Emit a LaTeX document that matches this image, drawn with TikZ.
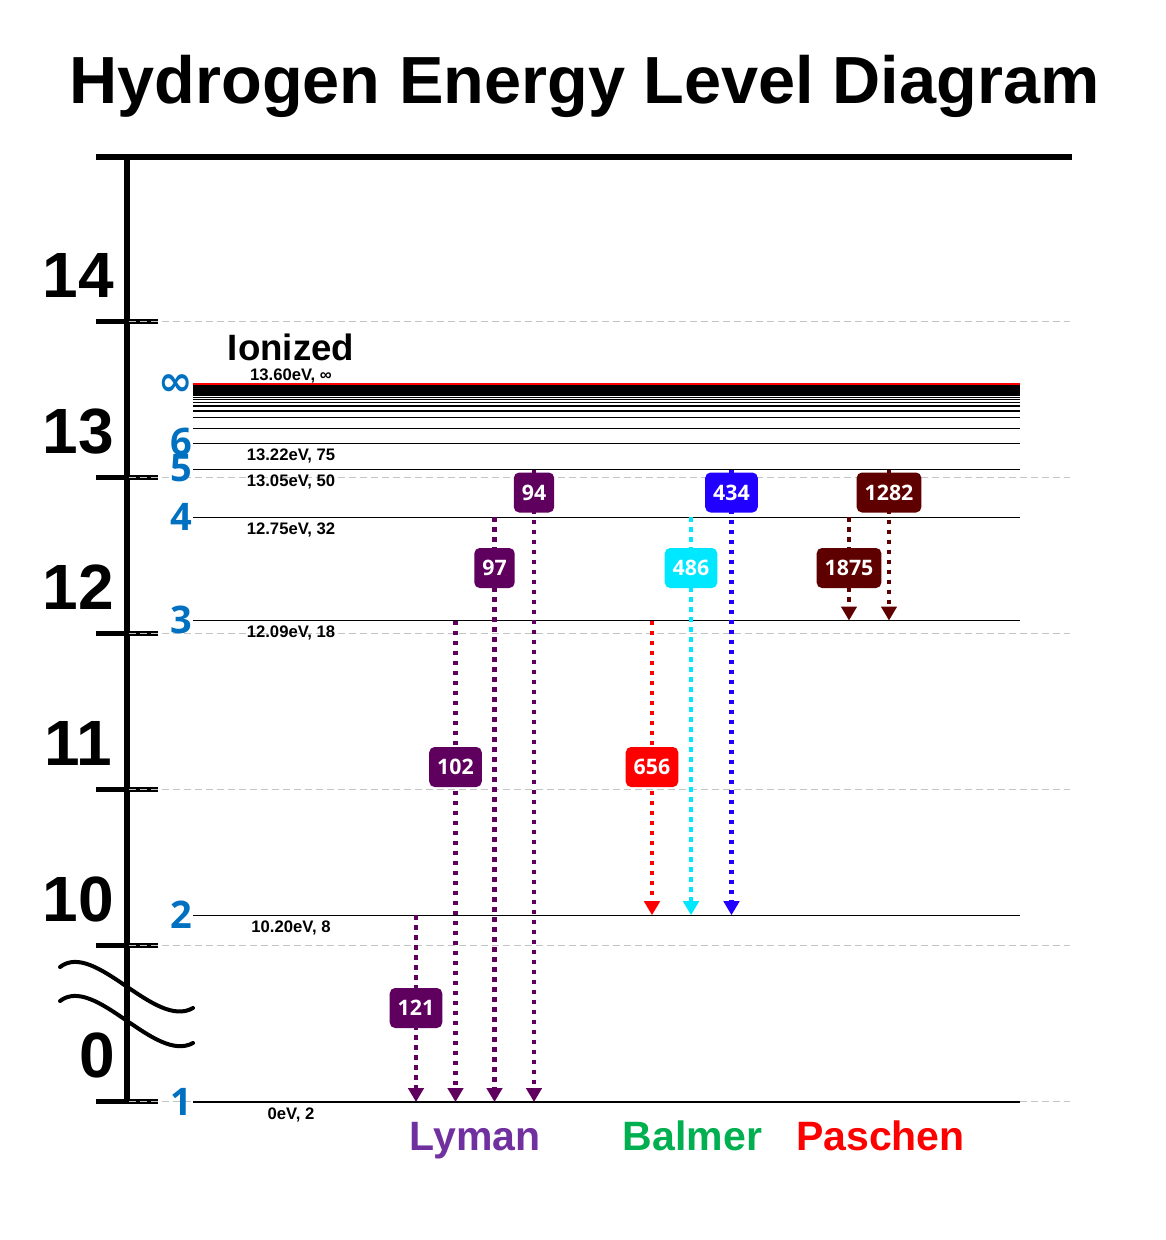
\documentclass[tikz,border=0pt]{standalone}
\usepackage{fontspec}
\setmainfont{Liberation Sans}
\newfontfamily\osans{Open Sans}
\newfontfamily\dvsans{DejaVu Sans}
\usetikzlibrary{arrows.meta}
\definecolor{lyc}{HTML}{5F005F}
\definecolor{pac}{HTML}{5F0000}
\definecolor{hred}{HTML}{FF0000}
\definecolor{hcyan}{HTML}{00E8FF}
\definecolor{hblue}{HTML}{2200FF}
\definecolor{lvlblue}{HTML}{0070C0}
\definecolor{lymantxt}{HTML}{7030A0}
\definecolor{balmertxt}{HTML}{00B050}
\definecolor{gridgray}{HTML}{C4C4C4}
\tikzset{
  gridline/.style={draw=gridgray, line width=0.75pt, dash pattern=on 5.25pt off 3pt},
  tickline/.style={line width=3.75pt},
  levelline/.style={line width=0.8pt},
  transition/.style={line width=3.6pt, dash pattern=on 3.5pt off 4pt, draw=#1,
     -{Triangle[width=11.5pt,length=10.5pt,fill=#1]}},
  wbox/.style={rounded corners=4pt, fill=#1, text=white, font=\osans\bfseries\fontsize{16}{18}\selectfont,
     minimum height=30pt, inner xsep=6pt, inner ysep=0pt},
  axislbl/.style={font=\bfseries\fontsize{48}{56}\selectfont, anchor=base east, inner sep=0pt},
  nlbl/.style={font=\osans\bfseries\fontsize{28.5}{32}\selectfont, text=lvlblue, inner sep=0pt},
  elbl/.style={font=\bfseries\fontsize{12.5}{14}\selectfont, anchor=base, inner sep=0pt},
  serieslbl/.style={font=\bfseries\fontsize{30.75}{36}\selectfont, anchor=base, inner sep=0pt}
}
\begin{document}
\begin{tikzpicture}[x=0.75pt,y=-0.75pt]
\useasboundingbox[fill=white] (0,0) rectangle (1166,1240);

% title
\node[font=\bfseries\fontsize{50}{60}\selectfont, anchor=base, inner sep=0pt] (title) at (584.5,103) {Hydrogen Energy Level Diagram};

% axis frame
\draw[line width=4.2pt] (96,157) -- (1072,157);
\draw[line width=4.1pt] (127,157) -- (127,1103.5);
\foreach \ty in {321,477,633,789,945,1101} {
  \draw[tickline] (96,\ty) -- (158,\ty);
}
% grid lines
\foreach \ty in {321,477,633,789,945,1101} {
  \draw[gridline] (129,\ty) -- (1070,\ty);
}

% axis labels
\node[axislbl] (a14) at (114,297) {14};
\node[axislbl] (a13) at (114,453) {13};
\node[axislbl] (a12) at (114,609) {12};
\node[axislbl] (a11) at (112,765) {11};
\node[axislbl] (a10) at (114,921) {10};
\node[axislbl] (a0) at (115,1077) {0};

% break symbol
\draw[line width=3pt, line cap=round] (60,967) .. controls (95,940) and (155,1030) .. (193,1008);
\draw[line width=3pt, line cap=round] (60,1001) .. controls (95,974) and (155,1064) .. (193,1043);

% energy levels
\foreach \n in {2,...,160} {
  \pgfmathsetmacro\yy{384.8+2121.6/\n/\n}
  \draw[levelline] (193,\yy) -- (1020,\yy);
}
\draw[levelline] (193,1102) -- (1020,1102);
\draw[draw=hred, line width=1.6pt] (193,384.2) -- (1020,384.2);

% level numbers
\node[nlbl, font=\dvsans\bfseries\fontsize{31}{34}\selectfont] (ninf) at (176,385) {∞};
\node[nlbl] (n6) at (181,441.5) {6};
\node[nlbl] (n5) at (181,468.5) {5};
\node[nlbl] (n4) at (181,516.7) {4};
\node[nlbl] (n3) at (181,620) {3};
\node[nlbl] (n2) at (181,914.5) {2};
\node[nlbl] (n1) at (181,1102) {1};

% energy labels
\node[font=\bfseries\fontsize{27.5}{32}\selectfont, inner sep=0pt] (ion) at (291,347.5) {Ionized};
\node[elbl] (e7) at (291,380.5) {13.60eV, ∞};
\node[elbl] (e6) at (291,460) {13.22eV, 75};
\node[elbl] (e5) at (291,486) {13.05eV, 50};
\node[elbl] (e4) at (291,534) {12.75eV, 32};
\node[elbl] (e3) at (291,637) {12.09eV, 18};
\node[elbl] (e2) at (291,932.5) {10.20eV, 8};
\node[elbl] (e1) at (291,1119.5) {0eV, 2};

% transition endpoints
\coordinate (ly1s) at (416,915.2);   \coordinate (ly1e) at (416,1102);
\coordinate (ly2s) at (455.5,620.5); \coordinate (ly2e) at (455.5,1102);
\coordinate (ly3s) at (494.5,517.4); \coordinate (ly3e) at (494.5,1102);
\coordinate (ly4s) at (534,469.7);   \coordinate (ly4e) at (534,1102);
\coordinate (ba1s) at (652,620.5);   \coordinate (ba1e) at (652,915.2);
\coordinate (ba2s) at (691,517.4);   \coordinate (ba2e) at (691,915.2);
\coordinate (ba3s) at (731.5,469.7); \coordinate (ba3e) at (731.5,915.2);
\coordinate (pa1s) at (849,517.4);   \coordinate (pa1e) at (849,620.5);
\coordinate (pa2s) at (889,469.7);   \coordinate (pa2e) at (889,620.5);

\draw[transition=lyc] (ly1s) -- (ly1e);
\draw[transition=lyc] (ly2s) -- (ly2e);
\draw[transition=lyc] (ly3s) -- (ly3e);
\draw[transition=lyc] (ly4s) -- (ly4e);
\draw[transition=hred] (ba1s) -- (ba1e);
\draw[transition=hcyan] (ba2s) -- (ba2e);
\draw[transition=hblue] (ba3s) -- (ba3e);
\draw[transition=pac] (pa1s) -- (pa1e);
\draw[transition=pac] (pa2s) -- (pa2e);

% wavelength labels
\node[wbox=lyc] (w121) at (416,1008) {121};
\node[wbox=lyc] (w102) at (455.5,767) {102};
\node[wbox=lyc] (w97) at (494.5,568) {97};
\node[wbox=lyc] (w94) at (534,492.5) {94};
\node[wbox=hred] (w656) at (652,767) {656};
\node[wbox=hcyan] (w486) at (691,568) {486};
\node[wbox=hblue] (w434) at (731.5,492.5) {434};
\node[wbox=pac] (w1875) at (849,568) {1875};
\node[wbox=pac] (w1282) at (889,492.5) {1282};

% series labels
\node[serieslbl, text=lymantxt] (lyman) at (475,1150) {Lyman};
\node[serieslbl, text=balmertxt] (balmer) at (692.5,1150) {Balmer};
\node[serieslbl, text=hred] (paschen) at (880.5,1150) {Paschen};
\end{tikzpicture}
\end{document}
